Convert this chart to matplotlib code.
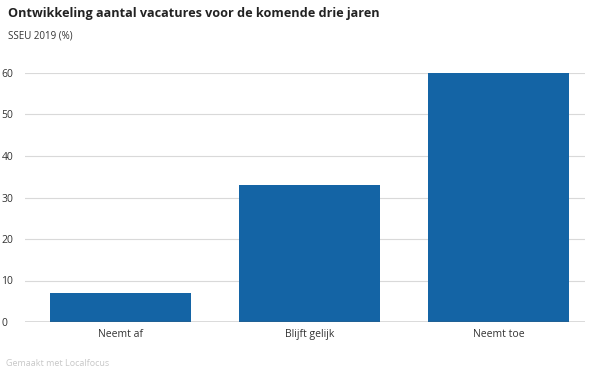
import matplotlib
matplotlib.use("Agg")
import matplotlib.pyplot as plt

categories = ["Neemt af", "Blijft gelijk", "Neemt toe"]
values = [7, 33, 60]
yticks = [0, 10, 20, 30, 40, 50, 60]

plt.rcParams['font.family'] = ['Open Sans', 'DejaVu Sans']

fig = plt.figure(figsize=(6, 3.74), dpi=100)
ax = fig.add_axes([25/600, 1-322/374, (585-25)/600, (322-73)/374])

x = list(range(len(categories)))
ax.bar(x, values, width=0.746, color="#1464a5", zorder=3)
ax.set_xlim(-0.505, 2.458)
ax.set_ylim(0, 60)
ax.set_yticks(yticks)
ax.set_yticklabels([str(t) for t in yticks], fontsize=7.5, color="#333333")
ax.set_xticks(x)
ax.set_xticklabels(categories, fontsize=7.5, color="#333333")
ax.tick_params(axis='both', length=0)
ax.tick_params(axis='x', pad=5)
for s in ax.spines.values():
    s.set_visible(False)
ax.grid(axis='y', color="#d9d9d9", linewidth=0.8, zorder=0)
ax.axhline(0, color="#555555", linewidth=1.0, zorder=4)
for lbl in ax.get_yticklabels():
    lbl.set_horizontalalignment('left')
ax.tick_params(axis='y', pad=17)

fig.text(8/600, 1-14/374, "Ontwikkeling aantal vacatures voor de komende drie jaren",
         fontsize=9.1, fontweight='bold', color="#222222", va='center', ha='left')
fig.text(8/600, 1-36/374, "SSEU 2019 (%)", fontsize=7, color="#333333", va='center', ha='left')
fig.text(6/600, 1-363/374, "Gemaakt met Localfocus", fontsize=6.5, color="#c8c8c8", va='center', ha='left')

fig.savefig("out.png", dpi=100)
